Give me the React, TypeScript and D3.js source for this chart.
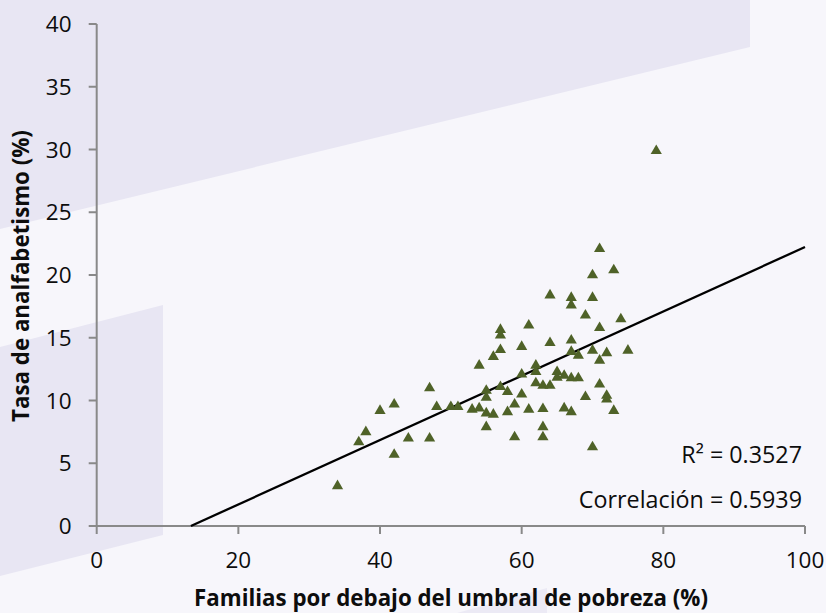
import React from "react";
import * as d3 from "d3";

const povertyPct = [34, 37, 38, 40, 42, 42, 44, 47, 47, 48, 50, 51, 53, 54, 54, 55, 55, 55, 55, 56, 56, 57, 57, 57, 57, 58, 58, 59, 59, 60, 60, 60, 61, 61, 62, 62, 62, 63, 63, 63, 63, 64, 64, 64, 65, 65, 66, 66, 67, 67, 67, 67, 67, 67, 68, 68, 69, 69, 70, 70, 70, 70, 71, 71, 71, 71, 72, 72, 72, 73, 73, 74, 75, 79];
const illiteracyPct = [3.3, 6.8, 7.6, 9.3, 9.8, 5.8, 7.1, 11.1, 7.1, 9.6, 9.6, 9.6, 9.4, 12.9, 9.5, 10.9, 10.35, 9.1, 8.0, 13.6, 9.0, 15.75, 15.3, 14.15, 11.2, 10.8, 9.2, 9.8, 7.2, 14.4, 12.2, 10.6, 16.1, 9.4, 12.9, 12.4, 11.5, 11.3, 9.45, 8.0, 7.2, 18.5, 14.7, 11.3, 12.4, 11.95, 12.1, 9.5, 18.3, 17.7, 14.9, 14.0, 11.9, 9.2, 13.7, 11.9, 16.9, 10.4, 20.1, 18.3, 14.1, 6.4, 22.2, 15.9, 13.3, 11.4, 13.9, 10.5, 10.2, 20.5, 9.3, 16.6, 14.1, 30.0];

const trendX = [13.3, 100];
const trendY = [0, 22.23];

const xTicks = [0, 20, 40, 60, 80, 100];
const yTicks = [0, 5, 10, 15, 20, 25, 30, 35, 40];

const xTitle = "Familias por debajo del umbral de pobreza (%)";
const yTitle = "Tasa de analfabetismo (%)";
const statLabels = ["R² = 0.3527", "Correlación = 0.5939"];

export default function App() {
  const W = 826;
  const H = 613;
  const x = d3.scaleLinear().domain([0, 100]).range([96.7, 805]);
  const y = d3.scaleLinear().domain([0, 40]).range([526, 24]);
  const font = "'Open Sans', 'Noto Sans', sans-serif";
  const axisColor = "#898989";
  const textColor = "#0d0d0d";
  const tri = "M0,-5L5.6,4.6L-5.6,4.6Z";
  const line = d3.line<number>().x((d) => x(d)).y((_, i) => y(trendY[i]));

  return (
    <svg width={W} height={H} style={{ position: "absolute", left: 0, top: 0 }}>
      <rect x={0} y={0} width={W} height={H} fill="#f7f6fb" />
      <polygon points="0,0 750,0 750,47 0,229" fill="#e8e6f3" />
      <polygon points="0,347 163,305 163,535 0,576" fill="#e8e6f3" />
      <polygon points="457,613 547,588 547,613" fill="#eceaf5" />

      {/* axes */}
      <line x1={x(0)} x2={x(0)} y1={y(40)} y2={y(0)} stroke={axisColor} strokeWidth={2} />
      <line x1={x(0)} x2={x(100)} y1={y(0)} y2={y(0)} stroke={axisColor} strokeWidth={2} />
      {yTicks.map((t) => (
        <g key={"y" + t}>
          <line x1={x(0) - 8} x2={x(0)} y1={y(t)} y2={y(t)} stroke={axisColor} strokeWidth={2} />
          <text x={71.5} y={y(t)} dy="0.36em" textAnchor="end" fontFamily={font} fontSize={22.5} fill={textColor}>
            {t}
          </text>
        </g>
      ))}
      {xTicks.map((t) => (
        <g key={"x" + t}>
          <line x1={x(t)} x2={x(t)} y1={y(0)} y2={y(0) + 8} stroke={axisColor} strokeWidth={2} />
          <text x={x(t)} y={568} textAnchor="middle" fontFamily={font} fontSize={22.5} fill={textColor}>
            {t}
          </text>
        </g>
      ))}

      {/* trend line */}
      <path d={line(trendX) || ""} fill="none" stroke="#000" strokeWidth={2.3} />

      {/* points */}
      {povertyPct.map((px, i) => (
        <path key={i} d={tri} transform={`translate(${x(px)},${y(illiteracyPct[i])})`} fill="#4f6228" />
      ))}

      {/* stats */}
      <text x={802} y={463} textAnchor="end" fontFamily={font} fontSize={23.3} fill={textColor}>
        {statLabels[0]}
      </text>
      <text x={802} y={508} textAnchor="end" fontFamily={font} fontSize={23.3} fill={textColor}>
        {statLabels[1]}
      </text>

      {/* titles */}
      <text x={451} y={606} textAnchor="middle" fontFamily={font} fontSize={22.3} fontWeight="bold" fill={textColor}>
        {xTitle}
      </text>
      <text
        transform={`translate(29,276) rotate(-90)`}
        textAnchor="middle"
        fontFamily={font}
        fontSize={22.3}
        fontWeight="bold"
        fill={textColor}
      >
        {yTitle}
      </text>
    </svg>
  );
}
